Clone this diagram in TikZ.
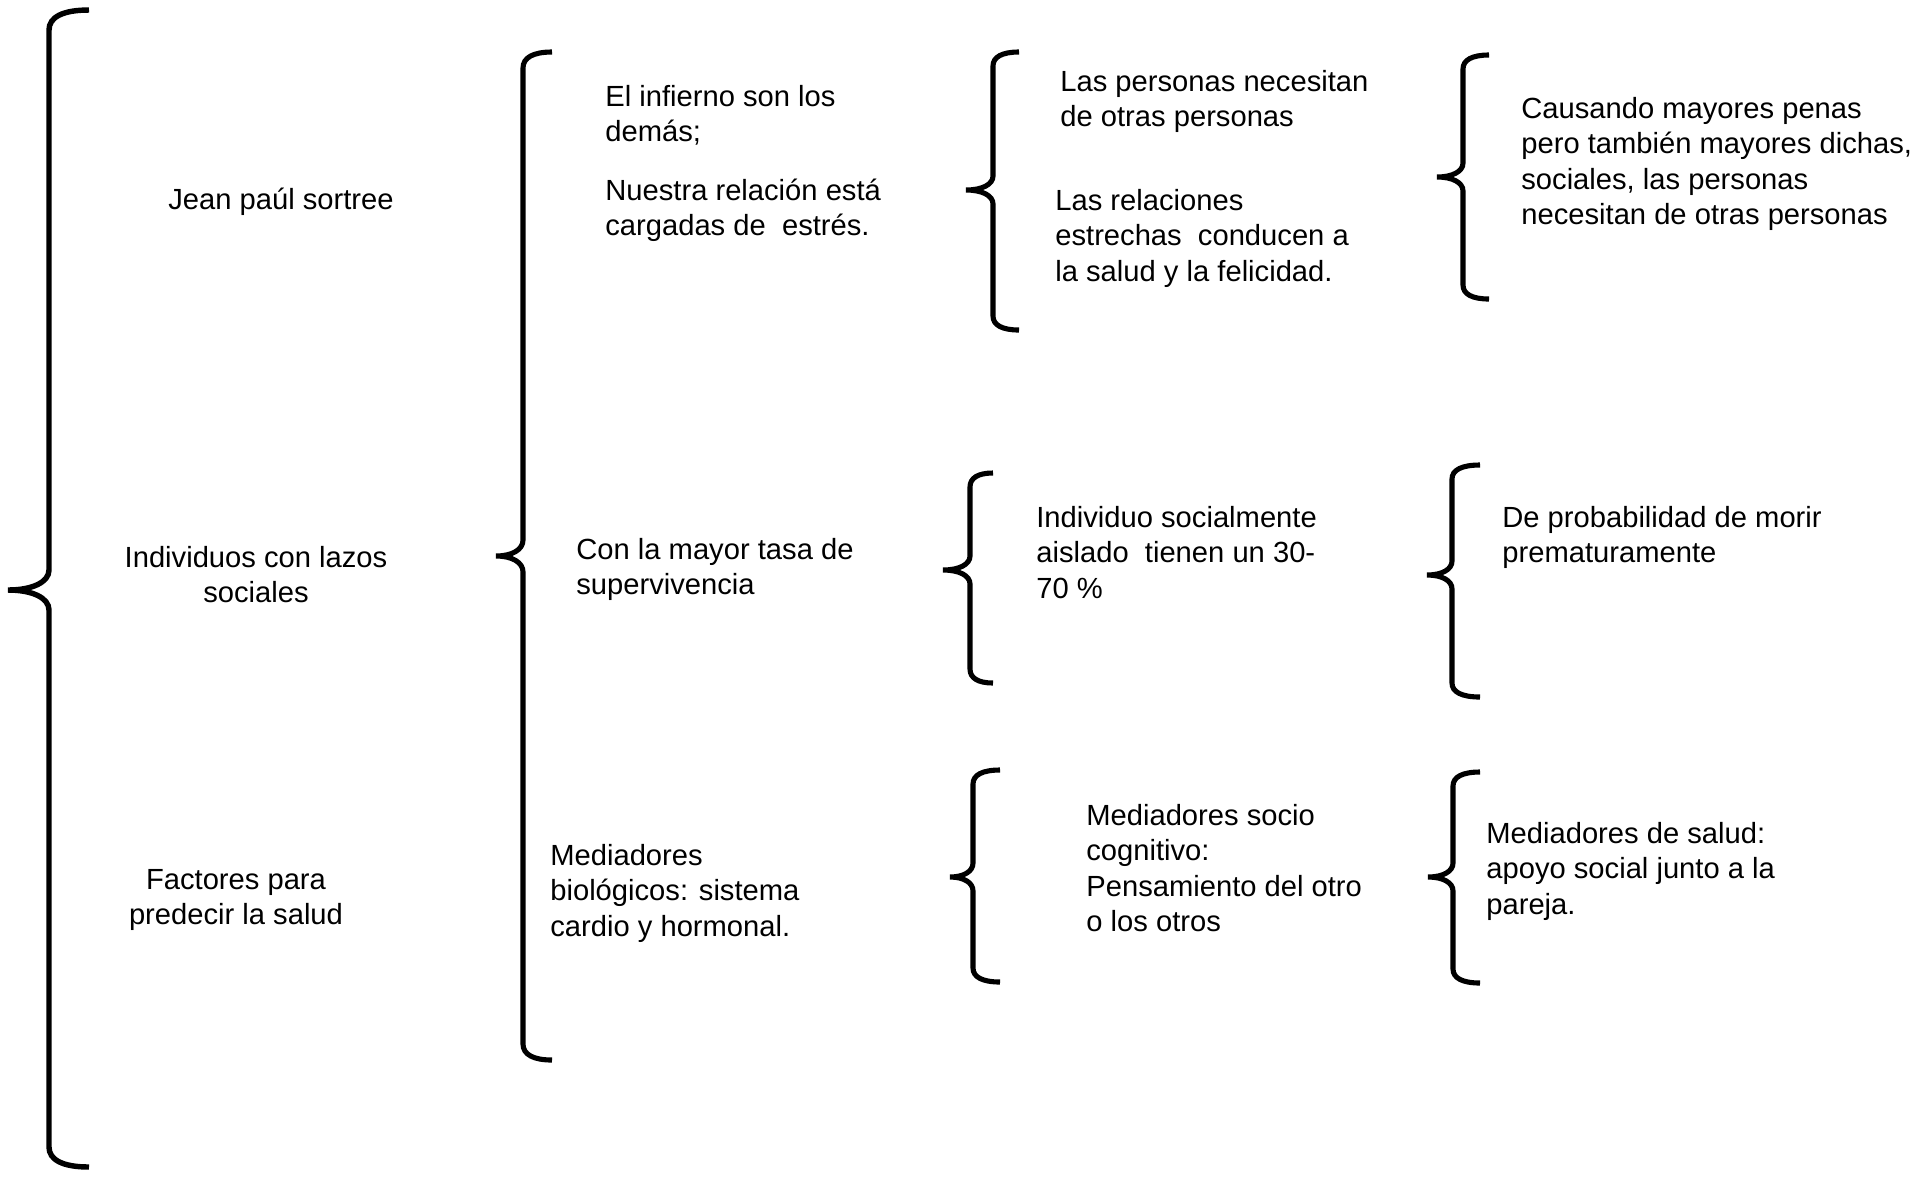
\documentclass[tikz,border=0pt]{standalone}
\usepackage{fontspec}
\setmainfont{Liberation Sans}
\newcommand\mybrace[8]{% lw xv xe xt yt ym yb r
\draw[line width=#1] (#3,#5) .. controls ({#2+0.35*(#3-#2)},#5) and (#2,{#5+0.35*#8}) .. (#2,{#5+#8})
 -- (#2,{#6-#8}) .. controls (#2,{#6-0.4*#8}) and ({#2-0.4*(#2-#4)},#6) .. (#4,#6)
 .. controls ({#2-0.4*(#2-#4)},#6) and (#2,{#6+0.4*#8}) .. (#2,{#6+#8})
 -- (#2,{#7-#8}) .. controls (#2,{#7-0.35*#8}) and ({#2+0.35*(#3-#2)},#7) .. (#3,#7);}
\begin{document}
\begin{tikzpicture}[x=0.02cm,y=-0.02cm,
  txt/.style={inner sep=0pt,anchor=base west,align=left,font=\fontsize{16.6pt}{20.2pt}\selectfont},
  ctxt/.style={inner sep=0pt,anchor=base,align=center,font=\fontsize{16.6pt}{20.2pt}\selectfont}]
\useasboundingbox[fill=white] (0,0) rectangle (1930,1178);
% braces
\mybrace{3.1pt}{49}{89}{8}{10}{590}{1167}{20}
\mybrace{2.9pt}{523}{552}{496}{52}{556}{1060}{16}
\mybrace{2.9pt}{993}{1019}{966}{52}{190}{330}{14}
\mybrace{2.9pt}{1463}{1489}{1437}{55}{177}{299}{14}
\mybrace{2.9pt}{970}{993}{943}{473}{570}{683}{14}
\mybrace{2.9pt}{1452}{1480}{1427}{465}{575}{697}{14}
\mybrace{2.9pt}{973}{1000}{950}{770}{877}{982}{14}
\mybrace{2.9pt}{1453}{1480}{1428}{772}{877}{983}{14}
% left column (positions give the baseline of the last line)
\node[ctxt] (jean) at (281,209) {Jean paúl sortree};
\node[ctxt] (indiv) at (256,602.5) {Individuos con lazos\\sociales};
\node[ctxt] (fact) at (236,924.5) {Factores para\\predecir la salud};
% second column
\node[txt] (infierno) at (605,141.5) {El infierno son los\\demás;};
\node[txt] (nuestra) at (605,235.5) {Nuestra relación está\\cargadas de\ \ estrés.};
\node[txt] (tasa) at (576,594.5) {Con la mayor tasa de\\supervivencia};
\node[txt] (medbio) at (550,936) {Mediadores\\biológicos: sistema\\cardio y hormonal.};
% third column
\node[txt] (personas) at (1060,126.5) {Las personas necesitan\\de otras personas};
\node[txt] (relac) at (1055,281) {Las relaciones\\estrechas\ \ conducen a\\la salud y la felicidad.};
\node[txt] (aislado) at (1036,598) {Individuo socialmente\\aislado\ \ tienen un 30-\\70 \%};
\node[txt] (medsoc) at (1086,931.5) {Mediadores socio\\cognitivo:\\Pensamiento del otro\\o los otros};
% fourth column
\node[txt] (causando) at (1521,224.5) {Causando mayores penas\\pero también mayores dichas,\\sociales, las personas\\necesitan de otras personas};
\node[txt] (morir) at (1502,562.5) {De probabilidad de morir\\prematuramente};
\node[txt] (medsal) at (1486,914) {Mediadores de salud:\\apoyo social junto a la\\pareja.};
\end{tikzpicture}
\end{document}
